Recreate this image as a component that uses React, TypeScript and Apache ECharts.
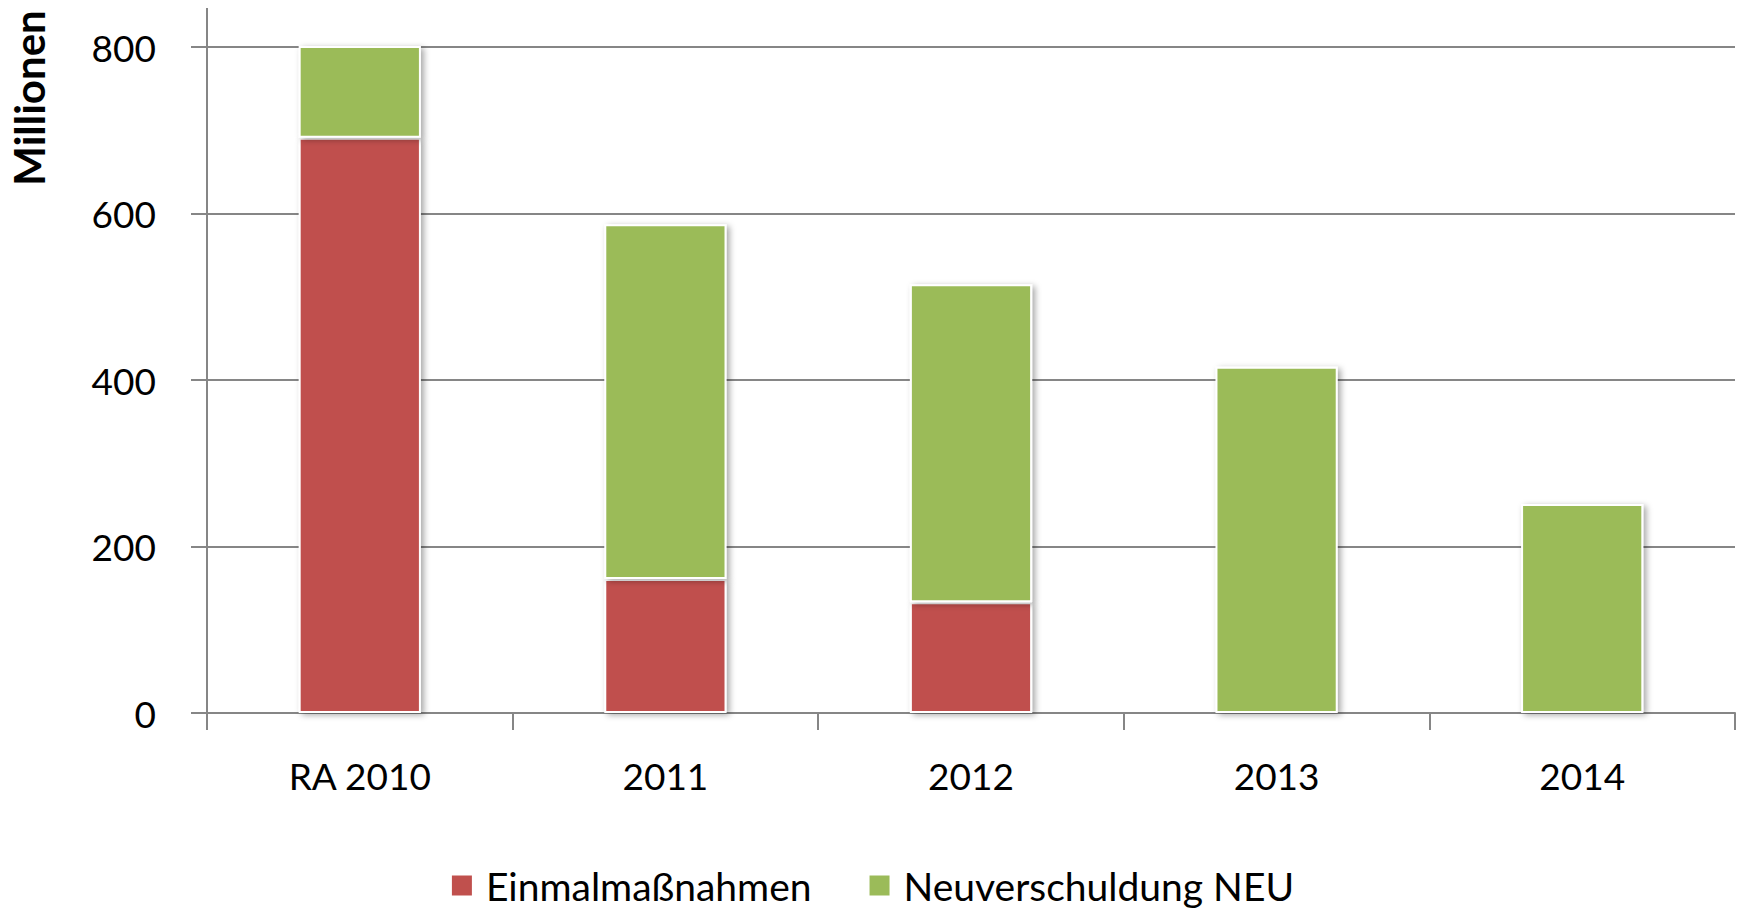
import React, { useEffect, useRef } from "react";
import * as echarts from "echarts";

const categories = ["RA 2010", "2011", "2012", "2013", "2014"];
const einmalmassnahmen = [691, 161, 133, 0, 0];
const neuverschuldung = [111, 426, 382, 416, 251];
const seriesNames = ["Einmalmaßnahmen", "Neuverschuldung NEU"];
const yTicks = { min: 0, max: 800, interval: 200 };
const yTitle = "Millionen";

const FONT = "Lato";
const GRID = "#868686";

export default function App() {
  const ref = useRef<HTMLDivElement>(null);
  useEffect(() => {
    if (!ref.current) return;
    const chart = echarts.init(ref.current, undefined, { renderer: "svg" });
    const barStyle = (color: string) => ({
      color,
      borderColor: "#ffffff",
      borderWidth: 2,
      shadowColor: "rgba(0,0,0,0.35)",
      shadowBlur: 6,
      shadowOffsetX: 3,
      shadowOffsetY: 2,
    });
    chart.setOption({
      animation: false,
      backgroundColor: "#ffffff",
      textStyle: { fontFamily: FONT },
      grid: {
        left: 207,
        right: 9,
        top: 47,
        bottom: 195,
        containLabel: false,
        outerBoundsMode: "none",
      },
      legend: {
        bottom: -2,
        left: "center",
        itemWidth: 22,
        itemHeight: 22,
        itemGap: 56,
        icon: "rect",
        textStyle: { fontFamily: FONT, fontSize: 39, color: "#000", padding: [0, 0, 0, 8] },
        data: seriesNames,
      },
      xAxis: {
        type: "category",
        data: categories,
        axisLine: { lineStyle: { color: GRID, width: 2 } },
        axisTick: { show: true, length: 17, lineStyle: { color: GRID, width: 2 } },
        axisLabel: { color: "#000", fontSize: 37, fontFamily: FONT, margin: 44 },
      },
      yAxis: {
        type: "value",
        min: yTicks.min,
        max: yTicks.max,
        interval: yTicks.interval,
        axisLine: { show: true, lineStyle: { color: GRID, width: 2 } },
        axisTick: { show: true, length: 16, lineStyle: { color: GRID, width: 2 } },
        axisLabel: { color: "#000", fontSize: 37, fontFamily: FONT, margin: 51 },
        splitLine: { show: true, lineStyle: { color: GRID, width: 2 } },
      },
      graphic: [
        {
          type: "line",
          shape: { x1: 207, y1: 8, x2: 207, y2: 47 },
          style: { stroke: GRID, lineWidth: 2 },
        },
        {
          type: "text",
          x: 29,
          y: 98,
          rotation: Math.PI / 2,
          style: {
            text: yTitle,
            fontFamily: FONT,
            fontWeight: "bold",
            fontSize: 42,
            fill: "#000",
            align: "center",
            verticalAlign: "middle",
          },
        },
      ],
      series: [
        {
          name: seriesNames[0],
          type: "bar",
          stack: "total",
          barWidth: "40%",
          data: einmalmassnahmen,
          itemStyle: barStyle("#C0504D"),
        },
        {
          name: seriesNames[1],
          type: "bar",
          stack: "total",
          barWidth: "40%",
          data: neuverschuldung,
          itemStyle: barStyle("#9BBB59"),
        },
      ],
    });
    return () => chart.dispose();
  }, []);
  return (
    <div
      ref={ref}
      style={{ position: "fixed", left: 0, top: 0, width: 1744, height: 908 }}
    />
  );
}
